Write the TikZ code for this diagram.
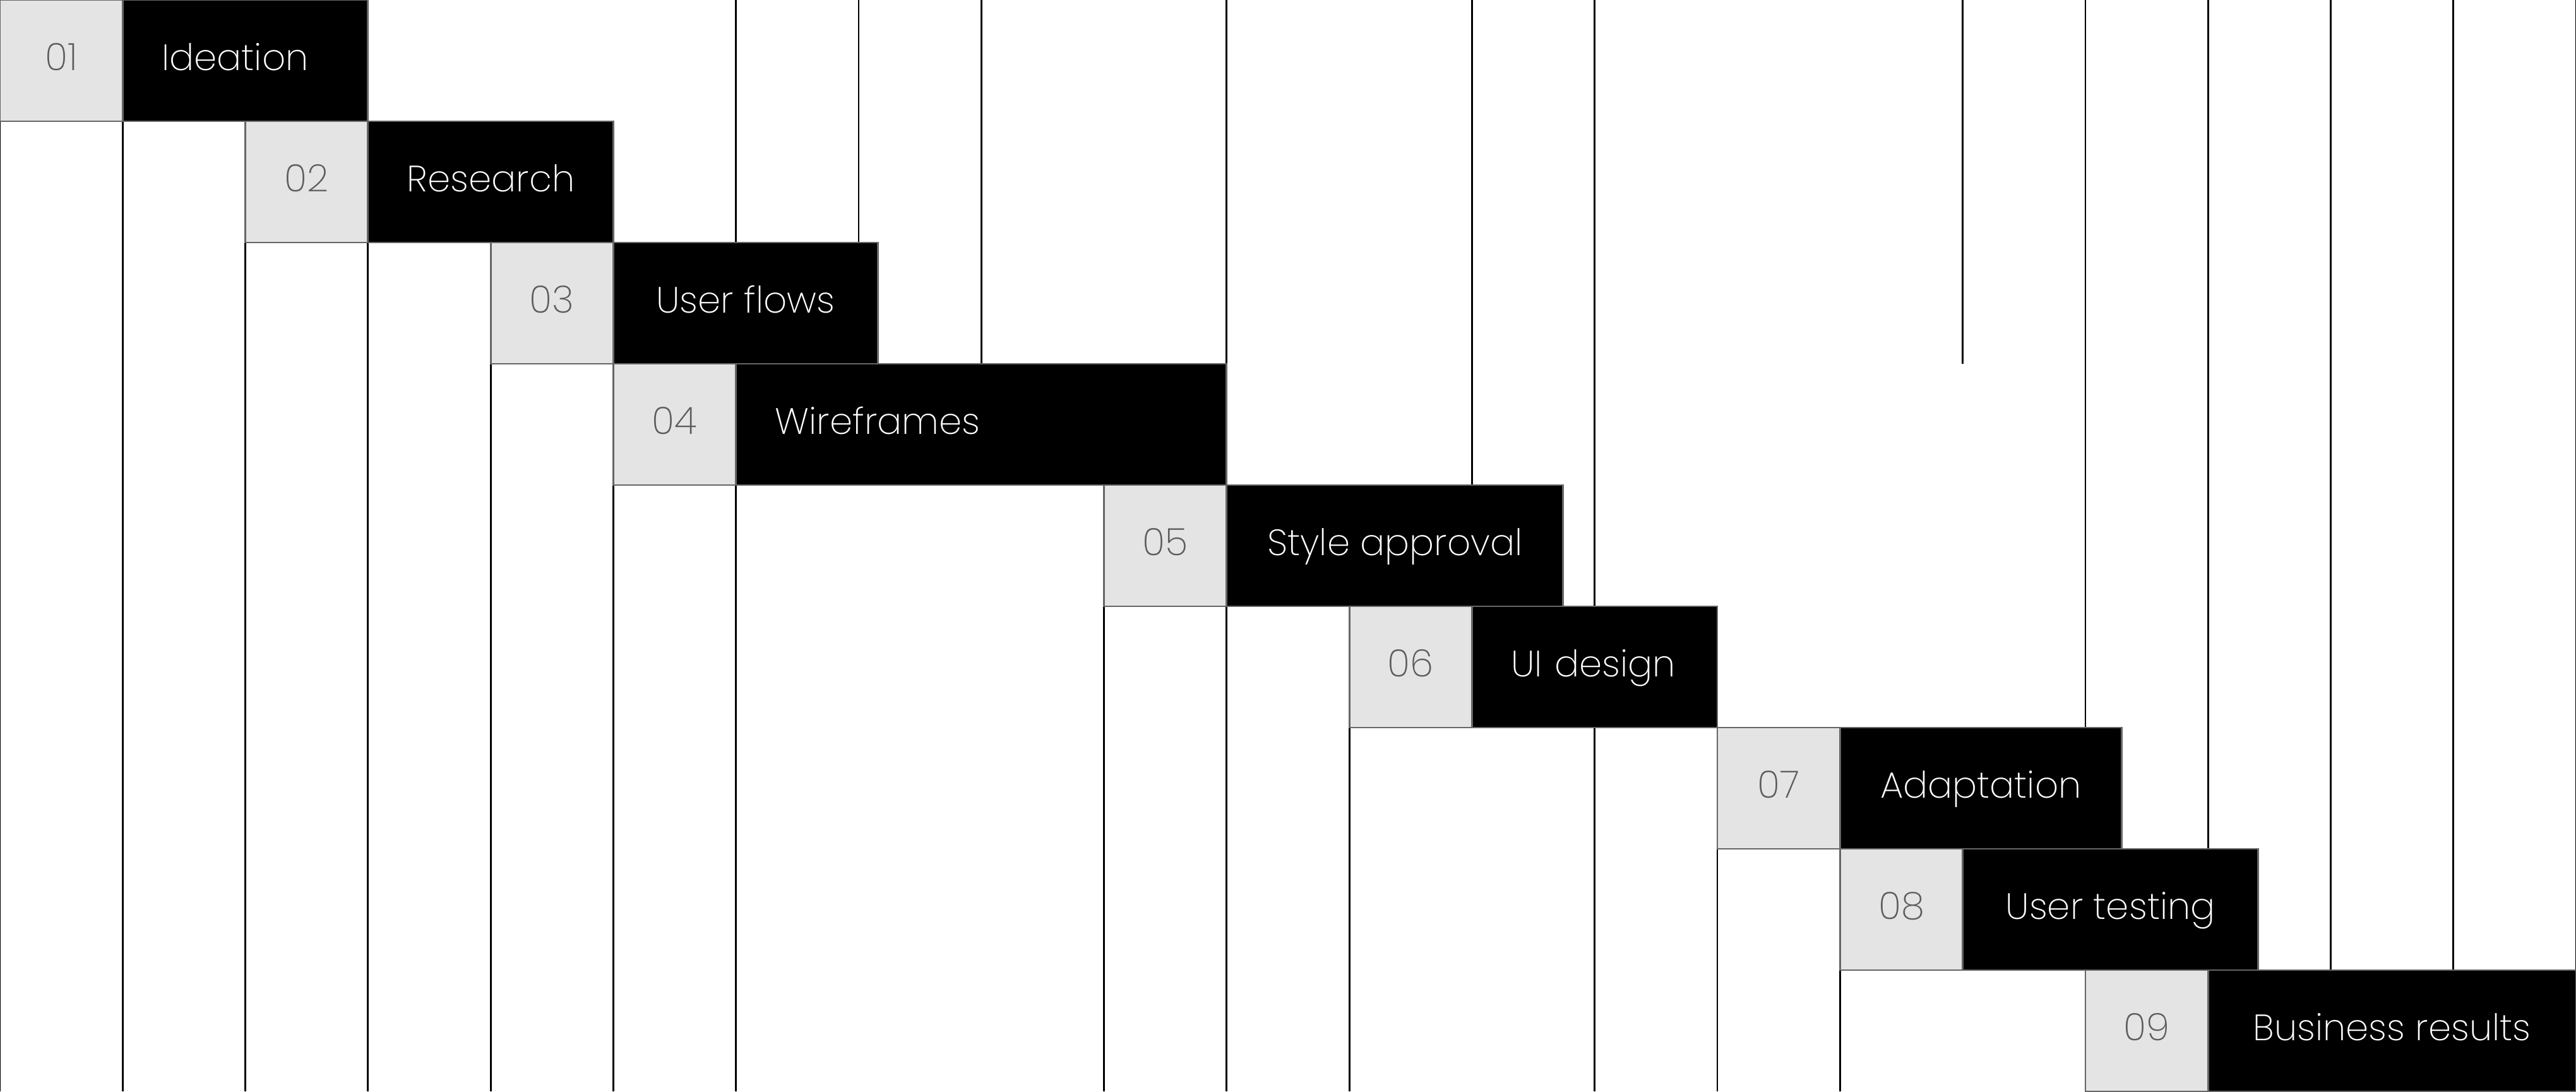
\documentclass[tikz,border=0pt]{standalone}
\usepackage{fontspec}
\setmainfont{Poppins ExtraLight}
\usetikzlibrary{positioning}

\definecolor{numfill}{HTML}{E4E4E4}
\definecolor{numtext}{HTML}{5C5C5C}
\definecolor{edgegray}{HTML}{666666}

\begin{document}
\begin{tikzpicture}[
  x=1.942857cm, y=-1.92cm,
  font=\fontsize{16.5}{19}\selectfont,
  numbox/.style={
    rectangle, draw=edgegray, line width=0.8pt, fill=numfill, text=numtext,
    minimum width=1.942857cm, minimum height=1.92cm, inner sep=0pt,
    outer sep=0pt, text height=0.45cm, text depth=0.15cm, anchor=north west,
    font=\fontsize{17}{19}\selectfont
  },
  taskbox/.style={
    rectangle, draw=edgegray, line width=0.8pt, fill=black, text=white,
    minimum height=1.92cm, inner xsep=0.62cm, inner ysep=0pt, outer sep=0pt,
    text height=0.45cm, text depth=0.15cm
  },
  gridline/.style={black, line width=0.8pt},
]
\useasboundingbox (0,0) rectangle (21,9);

% Column lines
\draw[gridline]
  (0,1) -- (0,9)   (1,1) -- (1,9)   (2,2) -- (2,9)   (3,2) -- (3,9)
  (4,3) -- (4,9)   (5,4) -- (5,9)   (6,0) -- (6,2)   (6,4) -- (6,9)
  (7,0) -- (7,2)   (8,0) -- (8,3)   (9,5) -- (9,9)   (10,0) -- (10,3)
  (10,5) -- (10,9) (11,6) -- (11,9) (12,0) -- (12,4) (13,0) -- (13,5)
  (13,6) -- (13,9) (14,7) -- (14,9) (15,8) -- (15,9) (16,0) -- (16,3)
  (17,0) -- (17,6) (18,0) -- (18,7) (19,0) -- (19,8) (20,0) -- (20,8)
  (21,0) -- (21,8);

% Steps
\node[numbox] (n1) at (0,0) {01};
\node[taskbox, text width=2.646cm, right=0pt of n1] (ideation) {Ideation};

\node[numbox] (n2) at (2,1) {02};
\node[taskbox, text width=2.646cm, right=0pt of n2] (research) {Research};

\node[numbox] (n3) at (4,2) {03};
\node[taskbox, minimum width=4.19cm, right=0pt of n3] (userflows) {User flows};

\node[numbox] (n4) at (5,3) {04};
\node[taskbox, text width=6.531cm, right=0pt of n4] (wireframes) {Wireframes};

\node[numbox] (n5) at (9,4) {05};
\node[taskbox, minimum width=5.33cm, right=0pt of n5] (styleappr) {Style approval};

\node[numbox] (n6) at (11,5) {06};
\node[taskbox, text width=2.646cm, right=0pt of n6] (uidesign) {UI design};

\node[numbox] (n7) at (14,6) {07};
\node[taskbox, minimum width=4.46cm, right=0pt of n7] (adaptation) {Adaptation};

\node[numbox] (n8) at (15,7) {08};
\node[taskbox, minimum width=4.68cm, right=0pt of n8] (usertest) {User testing};

\node[numbox] (n9) at (17,8) {09};
\node[taskbox, minimum width=5.83cm, right=0pt of n9] (business) {Business results};

\end{tikzpicture}
\end{document}
